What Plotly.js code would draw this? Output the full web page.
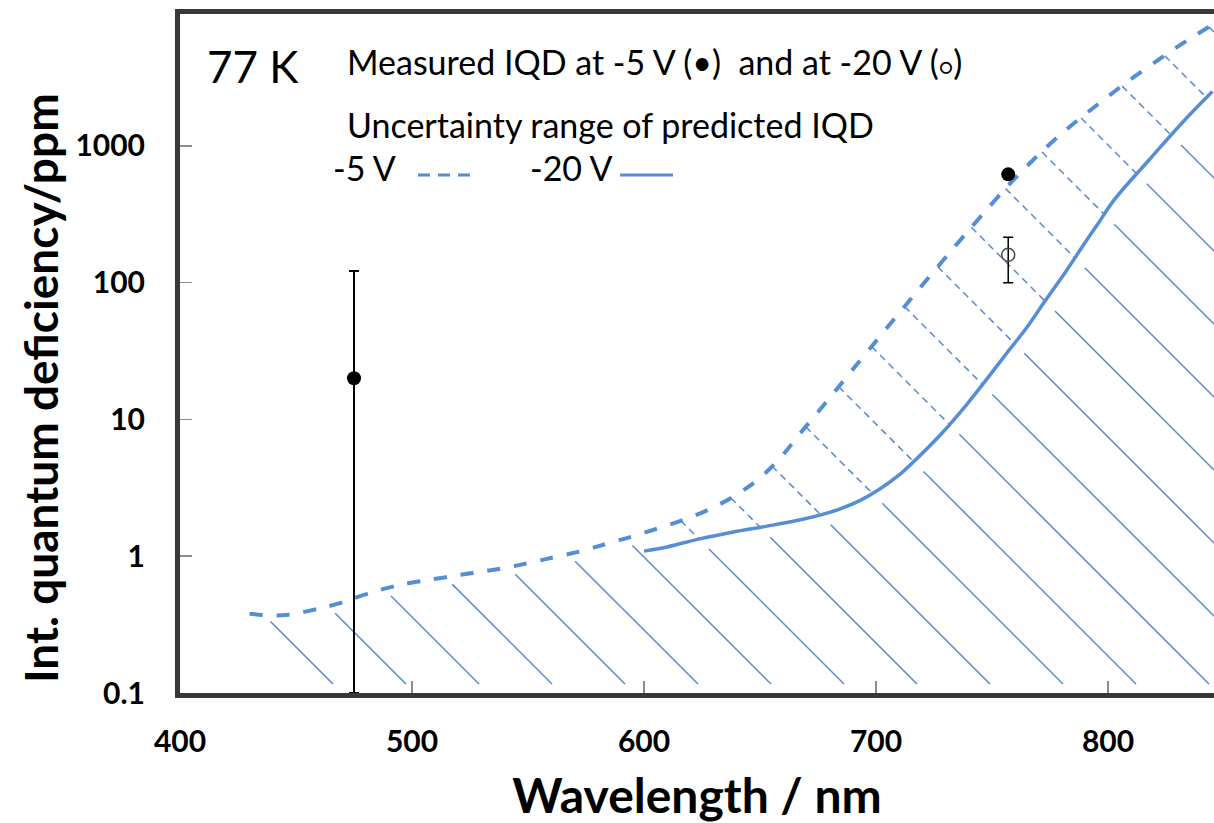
<!DOCTYPE html>
<html><head><meta charset="utf-8">
<script src="https://cdn.plot.ly/plotly-3.0.1.min.js"></script>
<style>html,body{margin:0;padding:0;overflow:hidden;background:#fff}</style>
</head><body><div id="chart" style="width:1214px;height:823px"></div>
<script>
// ---- data ----
const dashX = [430, 444, 456, 468, 479, 490, 502, 514, 526, 538, 550, 562, 573, 585, 597, 619, 630, 641, 650, 659, 667, 674, 682, 688, 696, 704, 712, 719, 727, 735, 743, 751, 760, 777, 796, 815, 834, 845];
const dashY = [0.38, 0.37, 0.40, 0.45, 0.52, 0.59, 0.65, 0.70, 0.755, 0.81, 0.89, 0.99, 1.09, 1.25, 1.43, 1.9, 2.28, 2.9, 3.75, 5.3, 7.8, 10.8, 15.8, 21.1, 30.9, 45.2, 66, 92, 133, 193, 277, 396, 582, 1110, 2040, 3550, 5890, 7670];
const solidX = [600, 610, 624, 638, 653, 667, 675, 684, 693, 701, 710, 717, 728, 739, 747, 756, 765, 773, 782, 790, 796, 803, 818, 832, 845];
const solidY = [1.09, 1.17, 1.34, 1.50, 1.66, 1.84, 1.98, 2.2, 2.55, 3.05, 3.93, 5.06, 7.8, 12.8, 19.0, 30, 47, 74, 122, 195, 275, 410, 800, 1480, 2500];

const m5X = [475];   const m5Y = [20];   const m5Hi = [122]; const m5Lo = [0.1];
const m5bX = [757];  const m5bY = [620];
const m20X = [757];  const m20Y = [160]; const m20Hi = [215]; const m20Lo = [100];

const xTicks = [400, 500, 600, 700, 800];
const yTicks = [0.1, 1, 10, 100, 1000];
const yTickText = ['0.1', '1', '10', '100', '1000'];

// ---- layout geometry ----
const W = 1214, H = 823;
const M = {l: 180, r: 0, t: 14, b: 130};
const X0 = 400, X1 = 845.7, Y0 = -1, Y1 = 3.965;
const plotW = W - M.l - M.r, plotH = H - M.t - M.b;
const kx = plotW / (X1 - X0), ky = plotH / (Y1 - Y0);

const BLUE = '#558ED5', HATCH = '#5a88cc';
const FONT = "Lato, 'Open Sans', sans-serif";

// ---- hatch built from the two curves (45 deg on screen) ----
const toUV = (x, y) => [(x - X0) * kx, (Math.log10(y) - Y0) * ky];
const fromUV = (u, v) => [X0 + u / kx, Math.pow(10, Y0 + v / ky)];
const dashUV = dashX.map((x, i) => toUV(x, dashY[i]));
const solidUV = solidX.map((x, i) => toUV(x, solidY[i]));
function hit(pts, c) {
  const f = p => p[0] + p[1] - c;
  if (f(pts[0]) > 0) return null;
  for (let i = 0; i < pts.length - 1; i++) {
    const a = f(pts[i]), b = f(pts[i + 1]);
    if (a <= 0 && b > 0) {
      const t = -a / (b - a);
      return [pts[i][0] + t * (pts[i + 1][0] - pts[i][0]), pts[i][1] + t * (pts[i + 1][1] - pts[i][1])];
    }
  }
  return 'beyond';
}
const R = Math.SQRT1_2;
const along = (p, g) => [p[0] + g * R, p[1] - g * R];
const HS = 73, C0 = 162, GAP_TOP = 10, GAP_SOLID = 14, BOTTOM = 9;
const hs = {x: [], y: []}, hd = {x: [], y: []};
function addSeg(store, p, q) {
  if (q[0] <= p[0]) return;
  const a = fromUV(p[0], p[1]), b = fromUV(q[0], q[1]);
  store.x.push(a[0], b[0], null); store.y.push(a[1], b[1], null);
}
for (let c = C0; c < plotW + plotH; c += HS) {
  const end = [c - BOTTOM, BOTTOM];
  const far = [plotW + 40, c - plotW - 40];
  let d = hit(dashUV, c);
  if (d === null) continue;
  const s = hit(solidUV, c);
  if (d === 'beyond') { addSeg(hs, far, end); continue; }
  if (s === null) { addSeg(hs, along(d, GAP_TOP), end); continue; }
  if (s === 'beyond') { addSeg(hd, d, far); continue; }
  addSeg(hd, d, s);
  addSeg(hs, along(s, GAP_SOLID), end);
}

const traces = [
  {x: hs.x, y: hs.y, mode: 'lines', line: {color: HATCH, width: 1.5}, hoverinfo: 'skip', showlegend: false},
  {x: hd.x, y: hd.y, mode: 'lines', line: {color: HATCH, width: 1.5, dash: '7px,5px'}, hoverinfo: 'skip', showlegend: false},
  {x: dashX, y: dashY, mode: 'lines', name: '-5 V', line: {color: BLUE, width: 4, dash: '13px,14px', shape: 'spline', smoothing: 1.1}, showlegend: false},
  {x: solidX, y: solidY, mode: 'lines', name: '-20 V', line: {color: BLUE, width: 3.5, shape: 'spline', smoothing: 1.1}, showlegend: false},
  {x: m5X, y: m5Y, mode: 'markers', name: 'Measured -5 V', marker: {color: '#000', size: 14},
   error_y: {type: 'data', symmetric: false, array: m5Y.map((v, i) => m5Hi[i] - v), arrayminus: m5Y.map((v, i) => v - m5Lo[i]), color: '#000', thickness: 2, width: 5},
   showlegend: false},
  {x: m5bX, y: m5bY, mode: 'markers', name: 'Measured -5 V', marker: {color: '#000', size: 14}, showlegend: false},
  {x: m20X, y: m20Y, mode: 'markers', name: 'Measured -20 V', marker: {symbol: 'circle-open', color: '#444', size: 13, line: {width: 1.5}},
   error_y: {type: 'data', symmetric: false, array: m20Y.map((v, i) => m20Hi[i] - v), arrayminus: m20Y.map((v, i) => v - m20Lo[i]), color: '#000', thickness: 1.5, width: 5},
   showlegend: false}
];

const px = p => (p - M.l) / plotW;
const py = p => (H - M.b - p) / plotH;
const ann = (text, x, y, size) => ({text, x: px(x), y: py(y), xref: 'paper', yref: 'paper', xanchor: 'left', yanchor: 'middle', showarrow: false, font: {family: FONT, size, color: '#000'}});

const layout = {
  width: W, height: H, margin: M, paper_bgcolor: '#fff', plot_bgcolor: '#fff', showlegend: false,
  xaxis: {range: [X0, X1], tickvals: xTicks, ticks: 'inside', ticklen: 12, tickwidth: 1.5, tickcolor: '#8c8c8c',
    showline: true, linewidth: 5, linecolor: '#383838', mirror: true, showgrid: false, zeroline: false,
    tickfont: {family: FONT, size: 30, color: '#000', weight: 'bold'}, ticklabelstandoff: 18,
    title: {text: 'Wavelength / nm', font: {family: FONT, size: 48, color: '#000', weight: 'bold'}, standoff: 26}},
  yaxis: {type: 'log', range: [Y0, Y1], tickvals: yTicks, ticktext: yTickText, ticks: 'inside', ticklen: 12, tickwidth: 1.5, tickcolor: '#8c8c8c',
    showline: true, linewidth: 5, linecolor: '#383838', mirror: false, showgrid: false, zeroline: false,
    tickfont: {family: FONT, size: 30, color: '#000', weight: 'bold'}, ticklabelstandoff: 24},
  annotations: [
    {text: 'Int. quantum deficiency/ppm', textangle: -90, x: px(40), y: py(388), xref: 'paper', yref: 'paper',
     xanchor: 'center', yanchor: 'middle', showarrow: false, font: {family: FONT, size: 46, color: '#000', weight: 'bold'}},
    ann('77 K', 205, 66, 44),
    ann('Measured IQD at -5 V (•)\u00a0 and at -20 V (<span style="font-size:22px">○</span>)', 345, 62, 34),
    ann('Uncertainty range of predicted IQD', 345, 125, 34),
    ann('-5 V', 331, 168, 34),
    ann('-20 V', 528, 168, 34)
  ],
  shapes: [
    {type: 'line', xref: 'paper', yref: 'paper', x0: px(418), x1: px(472), y0: py(175), y1: py(175), line: {color: BLUE, width: 3, dash: '12px,8px'}},
    {type: 'line', xref: 'paper', yref: 'paper', x0: px(620), x1: px(673), y0: py(175), y1: py(175), line: {color: BLUE, width: 3}}
  ]
};
Plotly.newPlot('chart', traces, layout, {displayModeBar: false, staticPlot: true});
</script></body></html>
